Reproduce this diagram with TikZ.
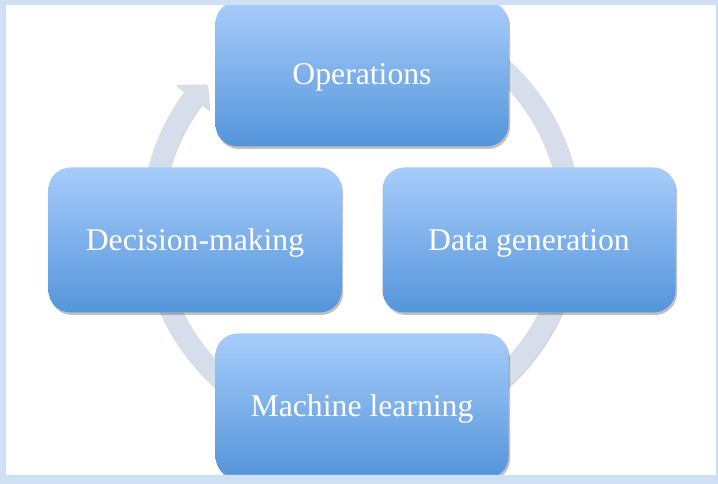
\documentclass[tikz,border=0pt]{standalone}
\usepackage{fontspec}
\setmainfont{Liberation Serif}
\usepackage{tikz}
\usetikzlibrary{calc,shadows}
\definecolor{framebg}{HTML}{CFE0F5}
\definecolor{ringcol}{HTML}{D6DEEB}
\definecolor{boxtop}{HTML}{A7CCFB}
\definecolor{boxbot}{HTML}{5495DA}
\tikzset{
  stage/.style     = {rectangle, rounded corners=22pt, minimum width=293pt,
                      minimum height=145pt, top color=boxtop, bottom color=boxbot,
                      draw=none, text=white, align=center,
                      text height=21pt, text depth=0pt,
                      font=\fontsize{31.7}{36}\selectfont,
                      drop shadow={shadow xshift=1.5pt, shadow yshift=-2.5pt,
                                   opacity=0.35, fill=black!70}},
  cyclearrow/.style = {fill=ringcol,
                      drop shadow={shadow xshift=1pt, shadow yshift=-1.5pt,
                                   opacity=0.25, fill=black!60}},
}

\begin{document}
\begin{tikzpicture}[x=1pt,y=1pt]
\useasboundingbox (0,0) rectangle (718,484);
\fill[white] (0,0) rectangle (718,484);
\coordinate (C) at (361,261);
% ring with arrow head
\fill[cyclearrow] ($(C)+(100:220)$) arc[start angle=100, end angle=-216.7, radius=220]
  -- ($(C)+(143.3:231)$) -- ($(C)+(138:207)$) -- ($(C)+(143.3:189)$)
  -- ($(C)+(143.3:199)$) arc[start angle=-216.7, end angle=100, radius=199] -- cycle;
% stages
\node[stage] (ops) at (362,410) {Operations};
\node[stage] (data) at (529,244) {Data generation};
\node[stage] (ml) at (362,78) {Machine learning};
\node[stage] (dec) at (195,244) {Decision-making};
% frame
\fill[framebg, even odd rule] (0,0) rectangle (718,484) (6,9) rectangle (716,479);
\end{tikzpicture}
\end{document}
